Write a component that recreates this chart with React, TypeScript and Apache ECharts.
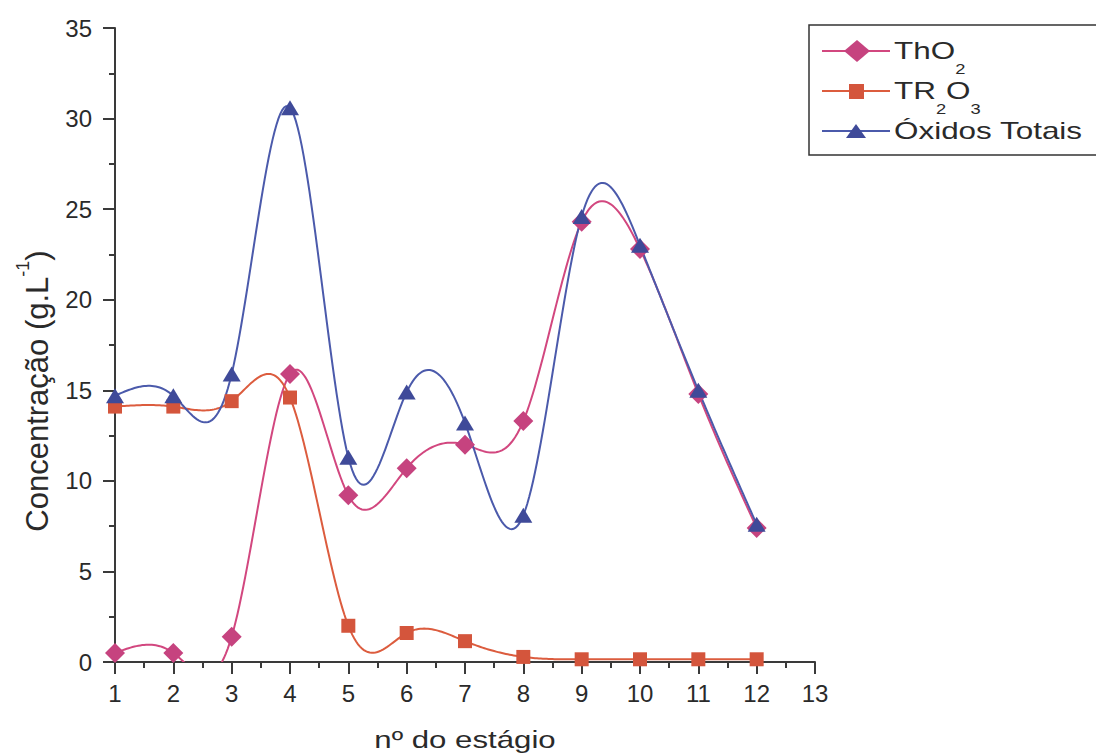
import React, { useEffect, useRef } from "react";
import * as echarts from "echarts";

const stages = [1, 2, 3, 4, 5, 6, 7, 8, 9, 10, 11, 12];
const tho2 = [0.5, 0.5, 1.4, 15.9, 9.2, 10.7, 12.0, 13.3, 24.3, 22.8, 14.8, 7.4];
const tr2o3 = [14.1, 14.1, 14.4, 14.6, 2.0, 1.6, 1.15, 0.28, 0.15, 0.15, 0.15, 0.15];
const totais = [14.7, 14.7, 15.9, 30.6, 11.3, 14.9, 13.2, 8.1, 24.6, 23.0, 15.0, 7.6];
const seriesNames = ["ThO2", "TR2O3", "Óxidos Totais"];
const legendLabels = ["ThO{sub|2}", "TR{sub|2}O{sub|3}", "Óxidos Totais"];
const xTitle = "nº do estágio";
const yTitle = "Concentração (g.L{sup|-1})";

const COL_THO2_LINE = "#d2477f";
const COL_THO2_SYM = "#c6437f";
const COL_TR_LINE = "#dc5c3e";
const COL_TR_SYM = "#d4553c";
const COL_TOT_LINE = "#4b5aab";
const COL_TOT_SYM = "#3f4a99";
const AXIS = "#3a3a3a";
const TEXT = "#2a2a2a";
const FONT = 'Arial, "Liberation Sans", sans-serif';

// natural cubic spline, used only to render the connecting curve between the data points
function splinePath(xs: number[], ys: number[], samples = 30): number[][] {
  const n = xs.length;
  const M = new Array(n).fill(0);
  const a: number[] = [], b: number[] = [], c: number[] = [], d: number[] = [];
  for (let i = 1; i < n - 1; i++) {
    const h0 = xs[i] - xs[i - 1];
    const h1 = xs[i + 1] - xs[i];
    a.push(h0);
    b.push(2 * (h0 + h1));
    c.push(h1);
    d.push(6 * ((ys[i + 1] - ys[i]) / h1 - (ys[i] - ys[i - 1]) / h0));
  }
  const m = b.length;
  for (let i = 1; i < m; i++) {
    const w = a[i] / b[i - 1];
    b[i] -= w * c[i - 1];
    d[i] -= w * d[i - 1];
  }
  const sol = new Array(m).fill(0);
  sol[m - 1] = d[m - 1] / b[m - 1];
  for (let i = m - 2; i >= 0; i--) sol[i] = (d[i] - c[i] * sol[i + 1]) / b[i];
  for (let i = 0; i < m; i++) M[i + 1] = sol[i];
  const pts: number[][] = [];
  for (let i = 0; i < n - 1; i++) {
    const h = xs[i + 1] - xs[i];
    for (let k = 0; k < samples; k++) {
      const t = k / samples;
      const A = 1 - t;
      const B = t;
      const y =
        A * ys[i] + B * ys[i + 1] + ((A * A * A - A) * M[i] + (B * B * B - B) * M[i + 1]) * (h * h) / 6;
      pts.push([xs[i] + t * h, y]);
    }
  }
  pts.push([xs[n - 1], ys[n - 1]]);
  return pts;
}

function curveSeries(name: string, ys: number[], color: string) {
  return {
    type: "custom",
    name: name + " curve",
    silent: true,
    z: 2,
    data: stages.map((x, i) => [x, ys[i]]),
    renderItem: (params: any, api: any) => {
      if (params.dataIndex !== 0) return null;
      const pts = splinePath(stages, ys).map((p) => api.coord(p));
      const cs = params.coordSys;
      return {
        type: "polyline",
        shape: { points: pts },
        style: { stroke: color, lineWidth: 2, fill: "none" },
        clipPath: { type: "rect", shape: { x: cs.x, y: cs.y, width: cs.width, height: cs.height } },
      };
    },
  };
}

function markerSeries(name: string, ys: number[], symbol: string, size: any, color: string) {
  return {
    type: "line",
    name,
    z: 3,
    silent: true,
    symbol,
    symbolSize: size,
    showSymbol: true,
    data: stages.map((x, i) => [x, ys[i]]),
    lineStyle: { opacity: 0 },
    itemStyle: { color },
    emphasis: { disabled: true },
  };
}

function legendRow(cy: number, label: string, lineColor: string, symbol: any): any[] {
  return [
    { type: "line", z: 20, shape: { x1: 822, y1: cy, x2: 890, y2: cy }, style: { stroke: lineColor, lineWidth: 2 } },
    { ...symbol, z: 21 },
    {
      type: "text",
      z: 21,
      x: 894,
      y: cy,
      scaleX: 1.31,
      style: {
        text: label,
        fontSize: 24,
        lineHeight: 26,
        fontFamily: FONT,
        fill: TEXT,
        align: "left",
        verticalAlign: "middle",
        rich: {
          sub: { fontSize: 14, lineHeight: 10, padding: [24, 0, 0, 0], verticalAlign: "top", fill: TEXT, fontFamily: FONT },
        },
      },
    },
  ];
}

export default function App() {
  const ref = useRef<HTMLDivElement>(null);
  useEffect(() => {
    document.body.style.margin = "0";
    const chart = echarts.init(ref.current!, undefined, { renderer: "svg" });
    chart.setOption({
      animation: false,
      backgroundColor: "#ffffff",
      grid: { left: 115, top: 28, right: 281, bottom: 92, containLabel: false },
      xAxis: {
        type: "value",
        min: 1,
        max: 13,
        interval: 1,
        axisLine: { show: true, onZero: false, lineStyle: { color: AXIS, width: 2 } },
        axisTick: { show: true, length: 12, lineStyle: { color: AXIS, width: 2 } },
        minorTick: { show: true, splitNumber: 2, length: 6, lineStyle: { color: AXIS, width: 2 } },
        splitLine: { show: false },
        minorSplitLine: { show: false },
        axisLabel: { fontSize: 24, color: TEXT, margin: 19, fontFamily: FONT },
      },
      yAxis: {
        type: "value",
        min: 0,
        max: 35,
        interval: 5,
        axisLine: { show: true, onZero: false, lineStyle: { color: AXIS, width: 2 } },
        axisTick: { show: true, length: 12, lineStyle: { color: AXIS, width: 2 } },
        minorTick: { show: true, splitNumber: 2, length: 6, lineStyle: { color: AXIS, width: 2 } },
        splitLine: { show: false },
        minorSplitLine: { show: false },
        axisLabel: { fontSize: 24, color: TEXT, margin: 23, fontFamily: FONT },
      },
      graphic: [
        {
          type: "text",
          x: 37,
          y: 391,
          rotation: Math.PI / 2,
          style: {
            text: yTitle,
            fontSize: 31,
            lineHeight: 46,
            fontFamily: FONT,
            fill: TEXT,
            align: "center",
            verticalAlign: "middle",
            rich: {
              sup: { fontSize: 18, lineHeight: 10, verticalAlign: "top", fill: TEXT, fontFamily: FONT },
            },
          },
        },
        {
          type: "text",
          x: 465,
          y: 740,
          scaleX: 1.3,
          style: {
            text: xTitle,
            fontSize: 24,
            fontFamily: FONT,
            fill: TEXT,
            align: "center",
            verticalAlign: "middle",
          },
        },
        {
          type: "rect",
          z: 19,
          shape: { x: 809, y: 25, width: 300, height: 130 },
          style: { fill: "#ffffff", stroke: "#333", lineWidth: 1.5 },
        },
        ...legendRow(51, legendLabels[0], COL_THO2_LINE, {
          type: "polygon",
          shape: { points: [[857, 40], [870, 51], [857, 62], [844, 51]] },
          style: { fill: COL_THO2_SYM },
        }),
        ...legendRow(91, legendLabels[1], COL_TR_LINE, {
          type: "rect",
          shape: { x: 849, y: 84, width: 15, height: 15 },
          style: { fill: COL_TR_SYM },
        }),
        ...legendRow(131, legendLabels[2], COL_TOT_LINE, {
          type: "polygon",
          shape: { points: [[856, 124], [866, 138], [846, 138]] },
          style: { fill: COL_TOT_SYM },
        }),
      ],
      series: [
        curveSeries(seriesNames[0], tho2, COL_THO2_LINE),
        curveSeries(seriesNames[1], tr2o3, COL_TR_LINE),
        curveSeries(seriesNames[2], totais, COL_TOT_LINE),
        markerSeries(seriesNames[0], tho2, "diamond", [20, 20], COL_THO2_SYM),
        markerSeries(seriesNames[1], tr2o3, "rect", [14, 14], COL_TR_SYM),
        markerSeries(seriesNames[2], totais, "triangle", [18, 15], COL_TOT_SYM),
      ],
    });
    return () => chart.dispose();
  }, []);
  return <div ref={ref} style={{ width: 1096, height: 754 }} />;
}
